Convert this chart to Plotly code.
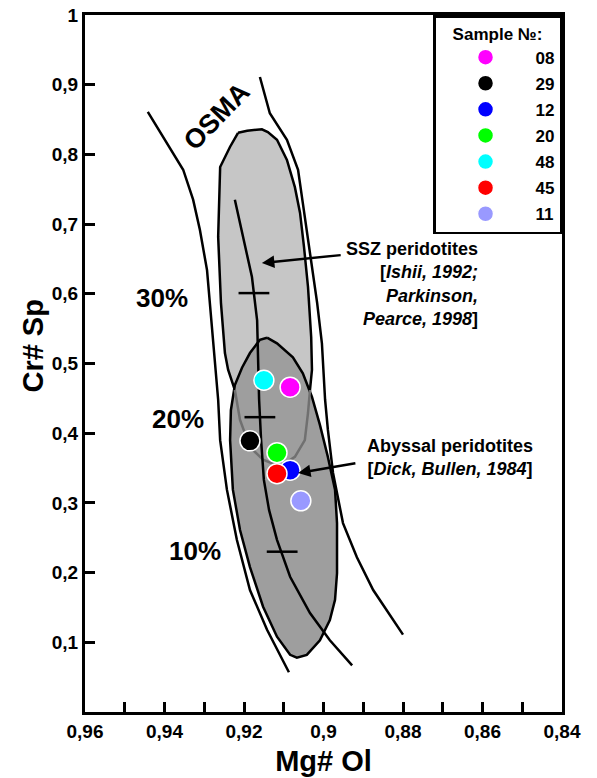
import plotly.graph_objects as go

# ====== Samples (Mg# Ol, Cr# Sp) ======
samples = ["08", "29", "12", "20", "48", "45", "11"]
colors = ["#ff00ff", "#000000", "#0000ff", "#00ff00", "#00ffff", "#ff0000", "#9999ff"]
mg_ol = [0.9084, 0.9185, 0.9084, 0.9117, 0.9150, 0.9117, 0.9057]
cr_sp = [0.466, 0.389, 0.347, 0.372, 0.476, 0.342, 0.303]

# ====== OSMA (olivine-spinel mantle array) ======
osma_left_x = [0.9442, 0.9399, 0.9353, 0.9328, 0.9311, 0.9293, 0.9278, 0.9265, 0.9260,
               0.9243, 0.9218, 0.9185, 0.9142, 0.9087]
osma_left_y = [0.861, 0.821, 0.778, 0.735, 0.692, 0.634, 0.538, 0.448, 0.390,
               0.319, 0.247, 0.175, 0.118, 0.057]
osma_right_x = [0.9160, 0.9135, 0.9092, 0.9064, 0.9052, 0.9034, 0.9016, 0.9004, 0.8996,
                0.8989, 0.8976, 0.8951, 0.8916, 0.8875, 0.8800]
osma_right_y = [0.911, 0.859, 0.821, 0.778, 0.730, 0.659, 0.587, 0.529, 0.448,
                0.405, 0.343, 0.271, 0.222, 0.175, 0.111]

# ====== SSZ peridotites field ======
ssz_x = [0.9215, 0.9192, 0.9155, 0.9140, 0.9117, 0.9092, 0.9072, 0.9059, 0.9049, 0.9039,
         0.9031, 0.9029, 0.9034, 0.9039, 0.9047, 0.9072, 0.9109, 0.9152, 0.9185, 0.9210,
         0.9223, 0.9240, 0.9248, 0.9258, 0.9265, 0.9263, 0.9260, 0.9235, 0.9215]
ssz_y = [0.831, 0.834, 0.836, 0.832, 0.821, 0.792, 0.753, 0.716, 0.667, 0.610,
         0.538, 0.491, 0.462, 0.429, 0.390, 0.366, 0.352, 0.362, 0.380, 0.419,
         0.462, 0.491, 0.515, 0.587, 0.682, 0.735, 0.782, 0.811, 0.831]

# ====== Abyssal peridotites field ======
aby_x = [0.9142, 0.9117, 0.9077, 0.9052, 0.9029, 0.9009, 0.8989, 0.8971, 0.8966, 0.8966,
         0.8971, 0.8984, 0.9009, 0.9042, 0.9067, 0.9084, 0.9117, 0.9152, 0.9185, 0.9210,
         0.9228, 0.9235, 0.9233, 0.9223, 0.9205, 0.9185, 0.9160, 0.9142]
aby_y = [0.537, 0.529, 0.509, 0.486, 0.452, 0.412, 0.366, 0.319, 0.271, 0.199,
         0.161, 0.132, 0.103, 0.082, 0.078, 0.082, 0.108, 0.151, 0.208, 0.261,
         0.319, 0.390, 0.433, 0.469, 0.494, 0.515, 0.534, 0.537]

# ====== Partial melting trend ======
melt_x = [0.9223, 0.9203, 0.9180, 0.9167, 0.9165, 0.9162, 0.9157, 0.9150, 0.9137,
          0.9117, 0.9084, 0.9034, 0.8984, 0.8928]
melt_y = [0.735, 0.682, 0.624, 0.562, 0.515, 0.448, 0.390, 0.333, 0.290,
          0.247, 0.194, 0.142, 0.103, 0.067]
melt_deg = ["10%", "20%", "30%"]
melt_tick_x = [0.9104, 0.9160, 0.9175]
melt_tick_y = [0.230, 0.423, 0.601]
melt_lab_x = [0.9323, 0.9366, 0.9406]
melt_lab_y = [0.228, 0.4175, 0.591]

x_ticks = [0.96, 0.94, 0.92, 0.90, 0.88, 0.86, 0.84]
x_labels = ["0,96", "0,94", "0,92", "0,9", "0,88", "0,86", "0,84"]
y_ticks = [0.1, 0.2, 0.3, 0.4, 0.5, 0.6, 0.7, 0.8, 0.9, 1.0]
y_labels = ["0,1", "0,2", "0,3", "0,4", "0,5", "0,6", "0,7", "0,8", "0,9", "1"]

FONT = "Liberation Sans, Arial, sans-serif"
LW = 2.5

fig = go.Figure()

fig.add_trace(go.Scatter(x=osma_left_x, y=osma_left_y, mode="lines",
                         line=dict(color="black", width=LW), showlegend=False, hoverinfo="skip"))
fig.add_trace(go.Scatter(x=osma_right_x, y=osma_right_y, mode="lines",
                         line=dict(color="black", width=LW), showlegend=False, hoverinfo="skip"))

fig.add_trace(go.Scatter(x=ssz_x, y=ssz_y, mode="lines", fill="toself", fillcolor="#c6c6c6",
                         line=dict(color="black", width=LW), showlegend=False, hoverinfo="skip"))
fig.add_trace(go.Scatter(x=aby_x, y=aby_y, mode="lines", fill="toself", fillcolor="#9e9e9e",
                         line=dict(color="black", width=LW), showlegend=False, hoverinfo="skip"))
# contorno SSZ visto a través del campo abisal
fig.add_trace(go.Scatter(x=ssz_x[12:21], y=ssz_y[12:21], mode="lines",
                         line=dict(color="#707070", width=LW), showlegend=False, hoverinfo="skip"))

fig.add_trace(go.Scatter(x=melt_x, y=melt_y, mode="lines",
                         line=dict(color="black", width=LW), showlegend=False, hoverinfo="skip"))
fig.add_trace(go.Scatter(x=melt_tick_x, y=melt_tick_y, mode="markers",
                         marker=dict(symbol="line-ew", size=22, line=dict(color="black", width=2.5)),
                         showlegend=False, hoverinfo="skip"))
fig.add_trace(go.Scatter(x=melt_lab_x, y=melt_lab_y, mode="text", text=melt_deg,
                         textfont=dict(family=FONT, size=26, color="black", weight="bold"),
                         showlegend=False, hoverinfo="skip"))

for name, c, xv, yv in zip(samples, colors, mg_ol, cr_sp):
    fig.add_trace(go.Scatter(x=[xv], y=[yv], mode="markers", name=name, legendgroup=name,
                             marker=dict(size=20, color=c, line=dict(color="white", width=1.5))))

# ====== Textos y flechas ======
fig.add_annotation(x=0.9268, y=0.855, text="OSMA", showarrow=False, textangle=-46,
                   font=dict(family=FONT, size=27, color="black", weight="bold"))
fig.add_annotation(x=0.8606, y=0.614, xanchor="right", align="right", showarrow=False,
                   text="SSZ peridotites<br>[<i>Ishii, 1992;</i><br><i>Parkinson,</i><br><i>Pearce, 1998</i>]",
                   font=dict(family=FONT, size=18, color="black", weight="bold"))
fig.add_annotation(x=0.8682, y=0.3658, align="center", showarrow=False,
                   text="Abyssal peridotites<br>[<i>Dick, Bullen, 1984</i>]",
                   font=dict(family=FONT, size=18, color="black", weight="bold"))
fig.add_annotation(x=0.9155, y=0.6442, ax=0.8953, ay=0.6557, axref="x", ayref="y",
                   text="", showarrow=True, arrowhead=2, arrowsize=1, arrowwidth=2.5, arrowcolor="black")
fig.add_annotation(x=0.9064, y=0.3429, ax=0.8916, ay=0.3572, axref="x", ayref="y",
                   text="", showarrow=True, arrowhead=2, arrowsize=1, arrowwidth=2.5, arrowcolor="black")
fig.add_annotation(xref="paper", yref="paper", x=-0.108, y=0.525, text="Cr# Sp", textangle=-90,
                   showarrow=False, xanchor="center", yanchor="middle",
                   font=dict(family=FONT, size=29, color="black", weight="bold"))

fig.update_xaxes(range=[0.96, 0.84], tickvals=x_ticks, ticktext=x_labels, automargin=False,
                 ticks="inside", ticklen=10, tickwidth=2.5, tickcolor="black",
                 minor=dict(tickvals=[0.95, 0.93, 0.91, 0.89, 0.87, 0.85], ticks="inside",
                            ticklen=10, tickwidth=2.5, tickcolor="black", showgrid=False),
                 showline=True, linewidth=3, linecolor="black", mirror=True, showgrid=False,
                 zeroline=False,
                 tickfont=dict(family=FONT, size=19, color="black", weight="bold"),
                 title=dict(text="Mg# Ol", standoff=10,
                            font=dict(family=FONT, size=29, color="black", weight="bold")))
fig.update_yaxes(range=[0, 1], tickvals=y_ticks, ticktext=y_labels, automargin=False,
                 ticks="inside", ticklen=10, tickwidth=2.5, tickcolor="black",
                 showline=True, linewidth=3, linecolor="black", mirror=True, showgrid=False,
                 zeroline=False,
                 tickfont=dict(family=FONT, size=19, color="black", weight="bold"))

fig.update_layout(
    width=597, height=778,
    margin=dict(l=85, r=35, t=15, b=66, autoexpand=False),
    plot_bgcolor="white", paper_bgcolor="white",
    showlegend=True,
    legend=dict(x=0.7296, y=1, xanchor="left", yanchor="top",
                bgcolor="white", bordercolor="black", borderwidth=2.5,
                title=dict(text="Sample №:", side="top center",
                           font=dict(family=FONT, size=17, color="black", weight="bold")),
                font=dict(family=FONT, size=17, color="black", weight="bold"),
                itemwidth=90, tracegroupgap=1),
)

# quitar el margen por defecto del body para que la figura ocupe toda la ventana
fig.write_html("out.html", config={"displayModeBar": False},
               post_script="document.body.style.margin='0';")
